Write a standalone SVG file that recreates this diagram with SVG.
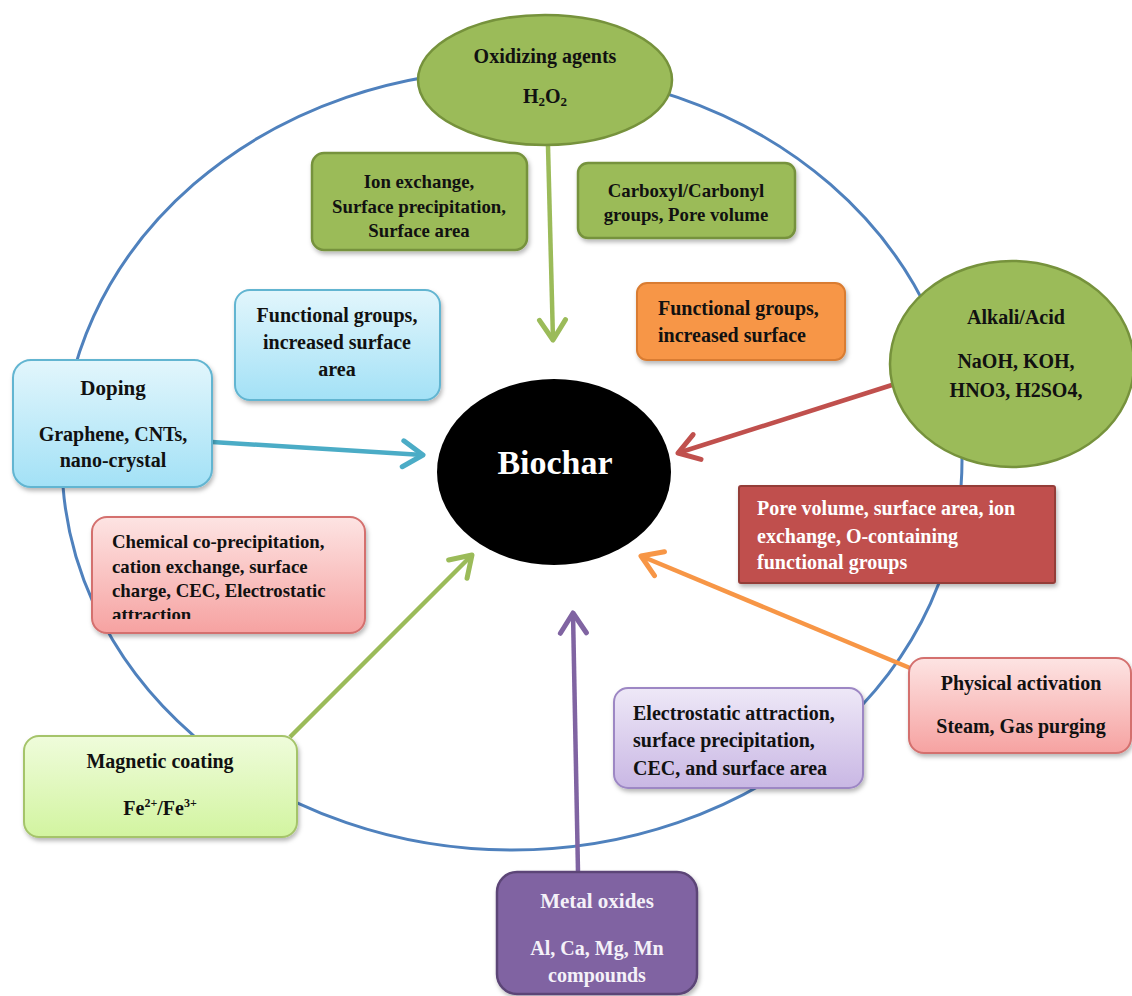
<svg xmlns="http://www.w3.org/2000/svg" width="1132" height="996" viewBox="0 0 1132 996">
<style>
text{font-family:"Liberation Serif","Times New Roman",serif;font-weight:bold;fill:#111;}
.c{text-anchor:middle;}
.f20{font-size:20px;}
.f18{font-size:18.8px;}
.w{fill:#fff;}
.olive{fill:#9bbb59;stroke:#76923c;stroke-width:2.5;}
.conn{fill:none;stroke-width:4.5;stroke-linecap:butt;}
.sh{filter:url(#shadow);}
</style>
<defs>
<filter id="shadow" x="-10%" y="-10%" width="120%" height="130%">
<feDropShadow dx="1.5" dy="3" stdDeviation="2" flood-color="#000" flood-opacity="0.28"/>
</filter>
<linearGradient id="gBlue" x1="0" y1="0" x2="0" y2="1"><stop offset="0" stop-color="#e2f6fc"/><stop offset="1" stop-color="#a3e1f6"/></linearGradient>
<linearGradient id="gPink" x1="0" y1="0" x2="0" y2="1"><stop offset="0" stop-color="#fde4e3"/><stop offset="1" stop-color="#f6a2a1"/></linearGradient>
<linearGradient id="gLav" x1="0" y1="0" x2="0" y2="1"><stop offset="0" stop-color="#eee8f7"/><stop offset="1" stop-color="#c9b7e4"/></linearGradient>
<linearGradient id="gLime" x1="0" y1="0" x2="0" y2="1"><stop offset="0" stop-color="#effcdb"/><stop offset="1" stop-color="#d2f4a0"/></linearGradient>
<marker id="aGreen" markerUnits="userSpaceOnUse" viewBox="-26 -20 32 40" refX="0" refY="0" markerWidth="32" markerHeight="40" orient="auto" overflow="visible"><path d="M-20,-13 L0,0 L-20,13" fill="none" stroke="#9bbb59" stroke-width="5" stroke-linecap="round" stroke-linejoin="round"/></marker>
<marker id="aBlue" markerUnits="userSpaceOnUse" viewBox="-26 -20 32 40" refX="0" refY="0" markerWidth="32" markerHeight="40" orient="auto" overflow="visible"><path d="M-20,-13 L0,0 L-20,13" fill="none" stroke="#4bacc6" stroke-width="5" stroke-linecap="round" stroke-linejoin="round"/></marker>
<marker id="aRed" markerUnits="userSpaceOnUse" viewBox="-26 -20 32 40" refX="0" refY="0" markerWidth="32" markerHeight="40" orient="auto" overflow="visible"><path d="M-20,-13 L0,0 L-20,13" fill="none" stroke="#c0504d" stroke-width="5" stroke-linecap="round" stroke-linejoin="round"/></marker>
<marker id="aOrange" markerUnits="userSpaceOnUse" viewBox="-26 -20 32 40" refX="0" refY="0" markerWidth="32" markerHeight="40" orient="auto" overflow="visible"><path d="M-20,-13 L0,0 L-20,13" fill="none" stroke="#f79646" stroke-width="5" stroke-linecap="round" stroke-linejoin="round"/></marker>
<marker id="aPurple" markerUnits="userSpaceOnUse" viewBox="-26 -20 32 40" refX="0" refY="0" markerWidth="32" markerHeight="40" orient="auto" overflow="visible"><path d="M-20,-13 L0,0 L-20,13" fill="none" stroke="#8064a2" stroke-width="5" stroke-linecap="round" stroke-linejoin="round"/></marker>
<clipPath id="clipChem"><rect x="92" y="517" width="273" height="102"/></clipPath>
</defs>

<rect x="0" y="0" width="1132" height="996" fill="#fff"/>

<g id="ring">
<ellipse cx="512" cy="460" rx="450" ry="390" fill="none" stroke="#4f81bd" stroke-width="3"/>
</g>

<g id="connectors">
<path class="conn" d="M548,146 L553,340" stroke="#9bbb59" marker-end="url(#aGreen)"/>
<path class="conn" d="M212,442 L423,455" stroke="#4bacc6" marker-end="url(#aBlue)"/>
<path class="conn" d="M892,385 L678,453" stroke="#c0504d" marker-end="url(#aRed)"/>
<path class="conn" d="M910,668 L641,556" stroke="#f79646" marker-end="url(#aOrange)"/>
<path class="conn" d="M290,737 L472,555" stroke="#9bbb59" marker-end="url(#aGreen)"/>
<path class="conn" d="M578,872 L573,613" stroke="#8064a2" marker-end="url(#aPurple)"/>
</g>

<g id="biochar">
<ellipse cx="554" cy="472" rx="117" ry="93" fill="#000"/>
<text class="c w" x="555" y="474" font-size="34">Biochar</text>
</g>

<g id="oxidizing">
<ellipse class="olive" cx="545" cy="80" rx="127" ry="65"/>
<text class="c f20" x="545" y="63">Oxidizing agents</text>
<text class="c f20" x="545" y="103">H<tspan dy="3" font-size="13">2</tspan><tspan dy="-3">O</tspan><tspan dy="3" font-size="13">2</tspan></text>
</g>

<g id="ionexchange">
<rect class="olive sh" x="312" y="153" width="215" height="97" rx="12"/>
<text class="c f18" x="419" y="188">Ion exchange,</text>
<text class="c f18" x="419" y="213">Surface precipitation,</text>
<text class="c f18" x="419" y="237">Surface area</text>
</g>

<g id="carboxyl">
<rect class="olive sh" x="578" y="163" width="217" height="75" rx="10"/>
<text class="c f18" x="686" y="197">Carboxyl/Carbonyl</text>
<text class="c f18" x="686" y="221">groups, Pore volume</text>
</g>

<g id="functional-blue">
<rect class="sh" x="235" y="290" width="205" height="110" rx="15" fill="url(#gBlue)" stroke="#62b5d1" stroke-width="2"/>
<text class="c f20" x="337" y="322">Functional groups,</text>
<text class="c f20" x="337" y="349">increased surface</text>
<text class="c f20" x="337" y="376">area</text>
</g>

<g id="doping">
<rect class="sh" x="13" y="360" width="199" height="127" rx="18" fill="url(#gBlue)" stroke="#62b5d1" stroke-width="2"/>
<text class="c" x="113" y="395" font-size="21">Doping</text>
<text class="c f20" x="113" y="441">Graphene, CNTs,</text>
<text class="c f20" x="113" y="467">nano-crystal</text>
</g>

<g id="chemical">
<rect class="sh" x="92" y="517" width="273" height="116" rx="15" fill="url(#gPink)" stroke="#d4706e" stroke-width="2"/>
<g clip-path="url(#clipChem)">
<text class="f18" x="112" y="548">Chemical co-precipitation,</text>
<text class="f18" x="112" y="573">cation exchange, surface</text>
<text class="f18" x="112" y="597">charge, CEC, Electrostatic</text>
<text class="f18" x="112" y="621">attraction</text>
</g>
</g>

<g id="functional-orange">
<rect class="sh" x="637" y="283" width="208" height="77" rx="10" fill="#f79646" stroke="#d97c31" stroke-width="2"/>
<text class="f20" x="658" y="315">Functional groups,</text>
<text class="f20" x="658" y="342">increased surface</text>
</g>

<g id="alkali">
<ellipse class="olive" cx="1012" cy="364" rx="122" ry="103"/>
<text class="c f20" x="1016" y="324">Alkali/Acid</text>
<text class="c f20" x="1016" y="368">NaOH, KOH,</text>
<text class="c f20" x="1016" y="397">HNO3, H2SO4,</text>
</g>

<g id="pore">
<rect class="sh" x="739" y="486" width="316" height="97" rx="2" fill="#c0504d" stroke="#943c39" stroke-width="2"/>
<text class="f20 w" x="757" y="515">Pore volume, surface area, ion</text>
<text class="f20 w" x="757" y="543">exchange, O-containing</text>
<text class="f20 w" x="757" y="569">functional groups</text>
</g>

<g id="physical">
<rect class="sh" x="909" y="658" width="222" height="95" rx="15" fill="url(#gPink)" stroke="#d4706e" stroke-width="2"/>
<text class="c f20" x="1021" y="690">Physical activation</text>
<text class="c f20" x="1021" y="733">Steam, Gas purging</text>
</g>

<g id="electrostatic">
<rect class="sh" x="614" y="688" width="249" height="100" rx="14" fill="url(#gLav)" stroke="#9d87c4" stroke-width="2"/>
<text class="f20" x="633" y="720">Electrostatic attraction,</text>
<text class="f20" x="633" y="747">surface precipitation,</text>
<text class="f20" x="633" y="775">CEC, and surface area</text>
</g>

<g id="magnetic">
<rect class="sh" x="24" y="736" width="273" height="101" rx="15" fill="url(#gLime)" stroke="#a5c46b" stroke-width="2"/>
<text class="c f20" x="160" y="768">Magnetic coating</text>
<text class="c f20" x="160" y="815">Fe<tspan dy="-8" font-size="12">2+</tspan><tspan dy="8">/Fe</tspan><tspan dy="-8" font-size="12">3+</tspan></text>
</g>

<g id="metal">
<rect class="sh" x="497" y="872" width="200" height="122" rx="20" fill="#8064a2" stroke="#5c4577" stroke-width="2.5"/>
<text class="c w" x="597" y="908" font-size="21" style="fill:#f4f1f8">Metal oxides</text>
<text class="c f20" x="597" y="955" style="fill:#f4f1f8">Al, Ca, Mg, Mn</text>
<text class="c f20" x="597" y="982" style="fill:#f4f1f8">compounds</text>
</g>
</svg>
